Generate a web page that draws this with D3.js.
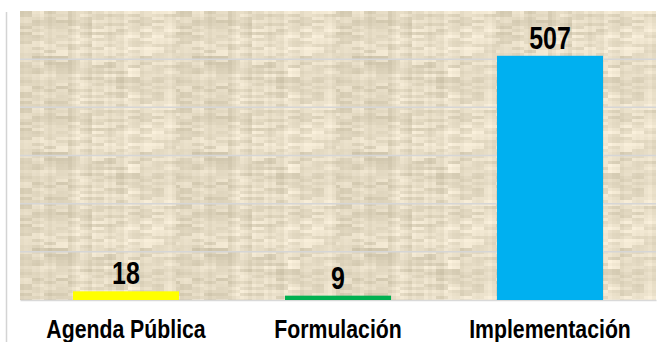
<!DOCTYPE html>
<html>
<head>
<meta charset="utf-8">
<script src="https://cdn.jsdelivr.net/npm/d3@7"></script>
<style>
  html, body { margin: 0; padding: 0; background: #fff; }
  svg { display: block; }
</style>
</head>
<body>
<div id="chart"></div>
<script>
const categories = ['Agenda Pública', 'Formulación', 'Implementación'];
const values = [18, 9, 507];
const barColors = ['#FFFF00', '#00B050', '#00B0F0'];
const gridTicks = [100, 200, 300, 400, 500];

const width = 658;
const height = 342;
const plot = { left: 20, right: 656, top: 11, bottom: 300 };

const svg = d3.select('#chart')
  .append('svg')
  .attr('width', width)
  .attr('height', height);

// burlap-like background texture (deterministic hash, decoration only)
const hash = (a, b) => {
  let h = (a * 374761393 + b * 668265263) | 0;
  h = (h ^ (h >>> 13)) * 1274126177;
  h = h ^ (h >>> 16);
  return ((h >>> 0) % 1000) / 1000;
};

const tileW = 160, tileH = 96, cellW = 4, cellH = 3;
const defs = svg.append('defs');
const pattern = defs.append('pattern')
  .attr('id', 'burlap')
  .attr('patternUnits', 'userSpaceOnUse')
  .attr('x', plot.left)
  .attr('y', plot.top)
  .attr('width', tileW)
  .attr('height', tileH);

const cells = [];
for (let i = 0; i < tileW / cellW; i++) {
  const colShade = hash(i, 7) - 0.5;
  for (let j = 0; j < tileH / cellH; j++) {
    const rowShade = hash(3, j) - 0.5;
    const streak = hash(Math.floor(i / 3), j * 5) - 0.5;
    const n = colShade * 18 + rowShade * 10 + streak * 26;
    cells.push({ i, j, n });
  }
}
const shade = n => d3.rgb(
  Math.max(0, Math.min(255, 228 + n)),
  Math.max(0, Math.min(255, 218 + n)),
  Math.max(0, Math.min(255, 195 + n * 1.1))
).formatHex();

pattern.selectAll('rect')
  .data(cells)
  .enter()
  .append('rect')
  .attr('x', d => d.i * cellW)
  .attr('y', d => d.j * cellH)
  .attr('width', cellW)
  .attr('height', cellH)
  .attr('fill', d => shade(d.n));

// left frame line
svg.append('line')
  .attr('x1', 6.5).attr('x2', 6.5)
  .attr('y1', 12).attr('y2', height)
  .style('stroke', '#d4d4d4')
  .style('stroke-width', 1.5);

svg.append('rect')
  .attr('x', plot.left)
  .attr('y', plot.top)
  .attr('width', plot.right - plot.left)
  .attr('height', plot.bottom - plot.top)
  .attr('fill', 'url(#burlap)');

// scales
const x = d3.scaleBand()
  .domain(categories)
  .range([plot.left, plot.right])
  .paddingInner(0.5)
  .paddingOuter(0.25);

const y = d3.scaleLinear()
  .domain([0, 600])
  .range([plot.bottom, plot.top]);

// gridlines
svg.append('g')
  .selectAll('line')
  .data(gridTicks)
  .enter()
  .append('line')
  .attr('x1', plot.left)
  .attr('x2', plot.right)
  .attr('y1', d => y(d))
  .attr('y2', d => y(d))
  .style('stroke', '#d6d6d6')
  .style('stroke-width', 1.5);

// baseline axis
const xAxis = d3.axisBottom(x).tickSize(0).tickPadding(0).tickFormat('');
const gx = svg.append('g')
  .attr('transform', `translate(0, ${y(0)})`)
  .call(xAxis);
gx.select('.domain').style('stroke', '#d9d9d9').style('stroke-width', 1.5);

// bars
svg.append('g')
  .selectAll('rect')
  .data(values)
  .enter()
  .append('rect')
  .attr('x', (d, i) => x(categories[i]))
  .attr('y', d => y(d))
  .attr('width', x.bandwidth())
  .attr('height', d => y(0) - y(d))
  .attr('fill', (d, i) => barColors[i]);

// value labels
svg.append('g')
  .selectAll('text')
  .data(values)
  .enter()
  .append('text')
  .attr('transform', (d, i) =>
    `translate(${x(categories[i]) + x.bandwidth() / 2}, ${y(d) - 7}) scale(0.78, 1)`)
  .attr('text-anchor', 'middle')
  .style('font-family', '"Liberation Sans", Arial, sans-serif')
  .style('font-weight', 'bold')
  .style('font-size', '32px')
  .style('fill', '#000')
  .text(d => d);

// category labels
svg.append('g')
  .selectAll('text')
  .data(categories)
  .enter()
  .append('text')
  .attr('transform', d => `translate(${x(d) + x.bandwidth() / 2}, 338) scale(0.85, 1)`)
  .attr('text-anchor', 'middle')
  .style('font-family', '"Liberation Sans", Arial, sans-serif')
  .style('font-weight', 'bold')
  .style('font-size', '25px')
  .style('fill', '#000')
  .text(d => d);
</script>
</body>
</html>
